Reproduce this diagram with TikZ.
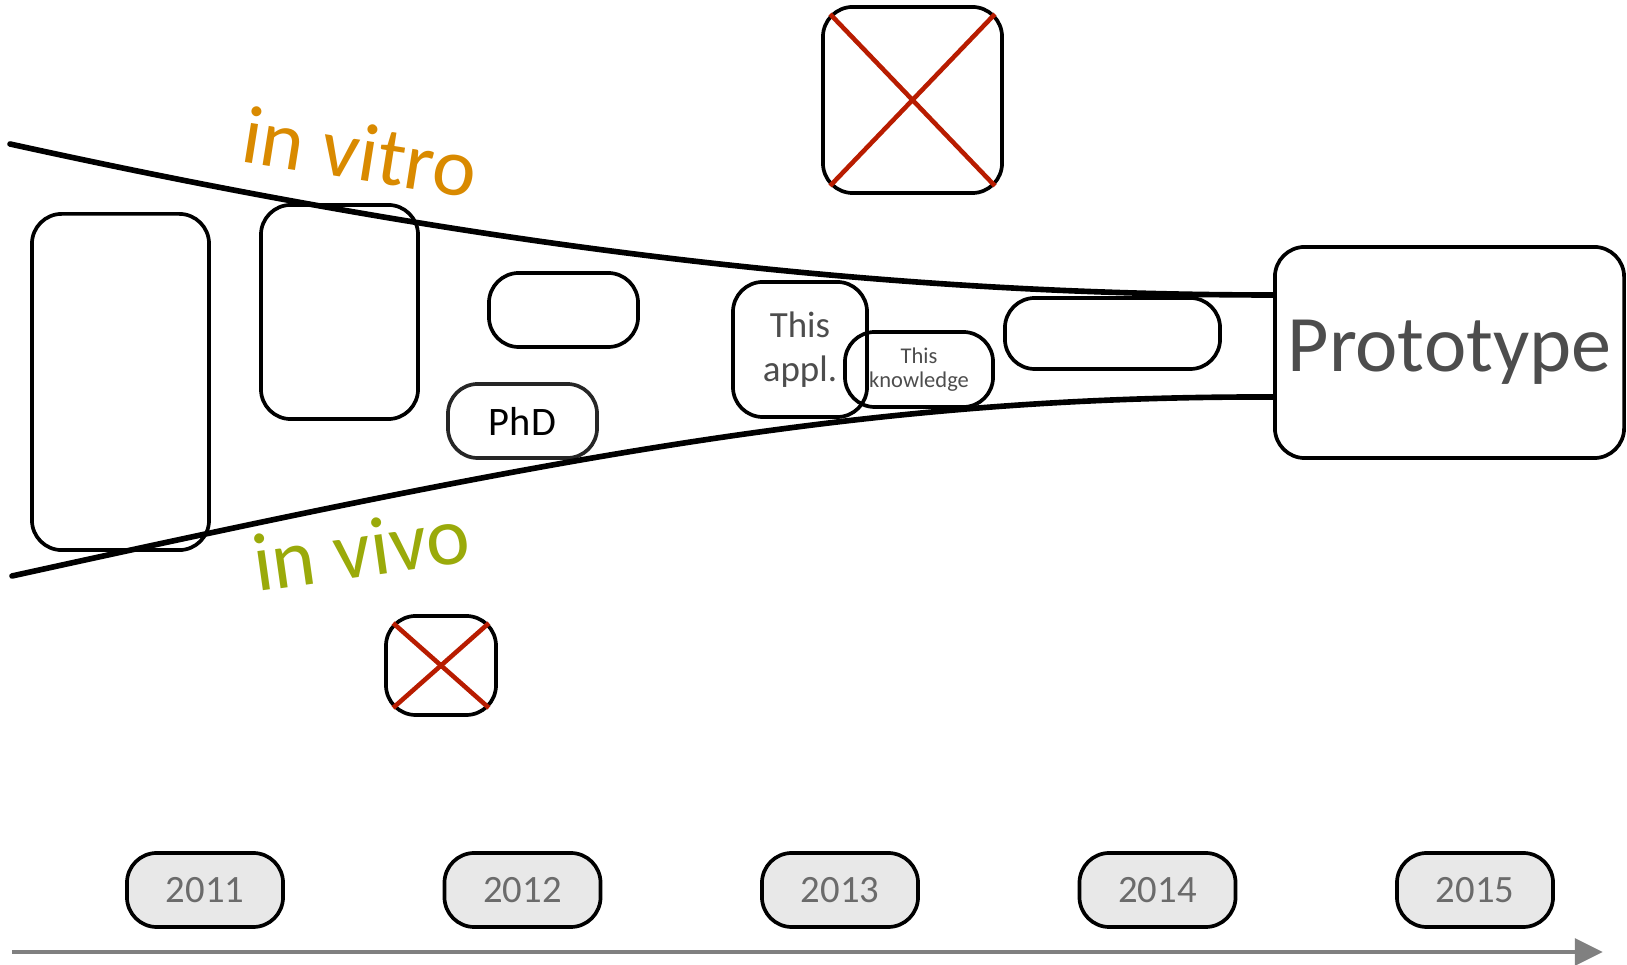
\documentclass[tikz,border=0pt]{standalone}
\usepackage{fontspec}
\setmainfont{Carlito}
\usepackage{xcolor}
\usepackage{tikz}
\usetikzlibrary{arrows.meta}
\definecolor{tlgray}{HTML}{4D4D4D}
\definecolor{tlyeartext}{HTML}{6B6B6B}
\definecolor{tlyearfill}{HTML}{E8E8E8}
\definecolor{tlorange}{HTML}{D98A00}
\definecolor{tlolive}{HTML}{9AAA0A}
\definecolor{tlred}{HTML}{B81C00}
\tikzset{
  tlbox/.style={draw=black, line width=1.05pt, rounded corners=8.5pt, inner sep=0pt},
  tlyear/.style={tlbox, fill=tlyearfill, text=tlyeartext, font=\fontsize{11}{13}\selectfont,
    minimum width=1.56cm, minimum height=0.74cm},
  tlcross/.style={line width=1.3pt, draw=tlred},
  tlcurve/.style={line width=1.6pt, draw=black, line cap=round},
  tlarrow/.style={line width=1.4pt, draw=black!50, -{Triangle[length=8pt,width=7.5pt]}},
}
\begin{document}
\begin{tikzpicture}[x=0.01cm, y=-0.01cm]
\useasboundingbox (0,0) rectangle (1627,965);
\node[tlbox, minimum width=1.77cm, minimum height=3.36cm] (boxa) at (120.5,382) {};
\node[tlbox, minimum width=1.57cm, minimum height=2.14cm] (boxb) at (339.5,312) {};
\node[tlbox, minimum width=1.49cm, minimum height=0.74cm] (boxc) at (563.5,310) {};
\node[tlbox, draw=black!85, minimum width=1.49cm, minimum height=0.74cm, font=\fontsize{11.5}{13}\selectfont] (phd) at (522.5,421) {PhD};
\node[tlbox, minimum width=1.34cm, minimum height=1.35cm, text=tlgray, align=center, font=\fontsize{10.5}{12.5}\selectfont] (appl) at (800,349.5) {This\\appl.};
\node[tlbox, minimum width=1.48cm, minimum height=0.75cm, text=tlgray, align=center, font=\fontsize{6.4}{7}\selectfont] (know) at (919,369.5) {This\\knowledge};
\node[tlbox, minimum width=2.15cm, minimum height=0.71cm] (boxe) at (1112.5,333.5) {};
\node[tlbox, minimum width=3.49cm, minimum height=2.11cm, text=tlgray, font=\fontsize{22.8}{24}\selectfont] (proto) at (1449.5,352.5) {Prototype};
\node[tlbox, minimum width=1.79cm, minimum height=1.86cm] (xtop) at (912.5,100) {};
\node[tlbox, minimum width=1.10cm, minimum height=0.99cm] (xbot) at (441,665.5) {};
\draw[tlcross] ([shift={(9,9)}]xtop.north west) -- ([shift={(-9,-9)}]xtop.south east);
\draw[tlcross] ([shift={(-9,9)}]xtop.north east) -- ([shift={(9,-9)}]xtop.south west);
\draw[tlcross] ([shift={(9,9)}]xbot.north west) -- ([shift={(-9,-9)}]xbot.south east);
\draw[tlcross] ([shift={(-9,9)}]xbot.north east) -- ([shift={(9,-9)}]xbot.south west);
\coordinate (vitro0) at (10,144);
\coordinate (vivo0) at (12,576);
\draw[tlcurve] (vitro0) .. controls (410,232) and (823,295) .. ([shift={(0,-57.5)}]proto.west);
\draw[tlcurve] (vivo0) .. controls (562,455) and (873,396) .. ([shift={(0,44.5)}]proto.west);
\node[text=tlorange, rotate=-9, font=\fontsize{23.5}{26}\selectfont] (vitro) at (360,152) {in vitro};
\node[text=tlolive, rotate=8, font=\fontsize{23.5}{26}\selectfont] (vivo) at (361,549) {in vivo};
\foreach \yr [count=\i from 0] in {2011,2012,2013,2014,2015}
  \node[tlyear] (y\yr) at (205+317.5*\i,890) {\yr};
\coordinate (t0) at (12,952);
\coordinate (t1) at (1603,952);
\draw[tlarrow] (t0) -- (t1);
\end{tikzpicture}
\end{document}
